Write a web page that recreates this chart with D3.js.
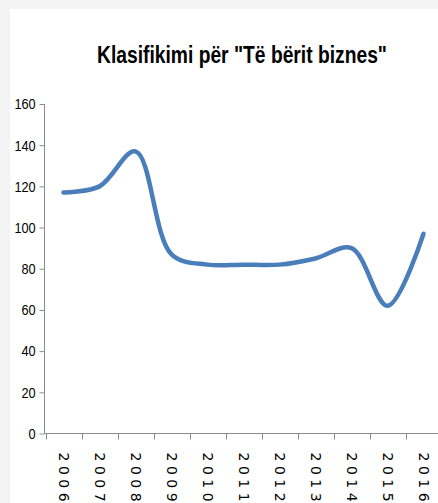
<!DOCTYPE html>
<html>
<head>
<meta charset="utf-8">
<script src="https://cdn.jsdelivr.net/npm/d3@7"></script>
<style>
  body { margin: 0; background: #f3f3f3; }
  svg { display: block; }
</style>
</head>
<body>
<svg id="chart" width="438" height="503"></svg>
<script>
// data
var years = ["2006", "2007", "2008", "2009", "2010", "2011", "2012", "2013", "2014", "2015", "2016"];
var ranks = [117, 120, 137, 87, 82, 82, 82, 85, 90, 62, 97];
var yTicks = [0, 20, 40, 60, 80, 100, 120, 140, 160];

var svg = d3.select("#chart");

// white sheet with grey margin top/left
svg.append("rect")
   .attr("x", 10).attr("y", 9)
   .attr("width", 428).attr("height", 494)
   .attr("fill", "#fff");

// narrow bold title (no condensed font installed, so squeeze it)
var title = svg.append("text")
   .attr("text-anchor", "middle")
   .style("font-family", "'Liberation Sans', sans-serif")
   .style("font-weight", "bold")
   .style("font-size", "24px")
   .text('Klasifikimi për "Të bërit biznes"');
var tw = title.node().getComputedTextLength();
title.attr("transform", "translate(242,63) scale(" + (290 / tw) + ",1)");

var x = d3.scaleBand()
          .domain(years)
          .range([45.5, 441.5]);

var y = d3.scaleLinear()
          .domain([0, 160])
          .range([433.5, 104]);

// y axis
var yAxis = svg.append("g")
   .attr("transform", "translate(44.5,0)")
   .call(d3.axisLeft(y).tickValues(yTicks).tickSize(5).tickPadding(3));
yAxis.selectAll("line, path").attr("stroke", "#8c8c8c");
yAxis.select(".domain").attr("d", "M0," + y(160) + "V" + y(0));
yAxis.selectAll("text")
     .style("font-family", "'Liberation Sans', sans-serif")
     .style("font-size", "15px")
     .attr("transform", "translate(-2,0) scale(0.85,1)")
     .attr("fill", "#000");

// x axis
var xAxis = svg.append("g")
   .attr("transform", "translate(0," + y(0) + ")");
xAxis.append("line")
     .attr("x1", 44.5).attr("x2", 438)
     .attr("stroke", "#8c8c8c");
xAxis.selectAll(".tk")
     .data(years)
     .enter().append("line")
     .attr("x1", function(d) { return Math.round(x(d)) + 0.5; })
     .attr("x2", function(d) { return Math.round(x(d)) + 0.5; })
     .attr("y1", 0).attr("y2", 6)
     .attr("stroke", "#8c8c8c");
xAxis.selectAll(".lbl")
     .data(years)
     .enter().append("text")
     .attr("transform", function(d) {
         return "translate(" + (x(d) + x.bandwidth() / 2 - 5) + ",19) rotate(90)";
     })
     .style("font-family", "'DejaVu Sans', sans-serif")
     .style("font-size", "14px")
     .style("letter-spacing", "4.5px")
     .attr("fill", "#000")
     .text(function(d) { return d; });

// the line
var line = d3.line()
   .x(function(d, i) { return x(years[i]) + x.bandwidth() / 2; })
   .y(function(d) { return y(d); })
   .curve(d3.curveCatmullRom.alpha(0.5));

svg.append("path")
   .datum(ranks)
   .attr("d", line)
   .attr("fill", "none")
   .attr("stroke", "#4a7ebb")
   .attr("stroke-width", 4.5)
   .attr("stroke-linecap", "round");
</script>
</body>
</html>
